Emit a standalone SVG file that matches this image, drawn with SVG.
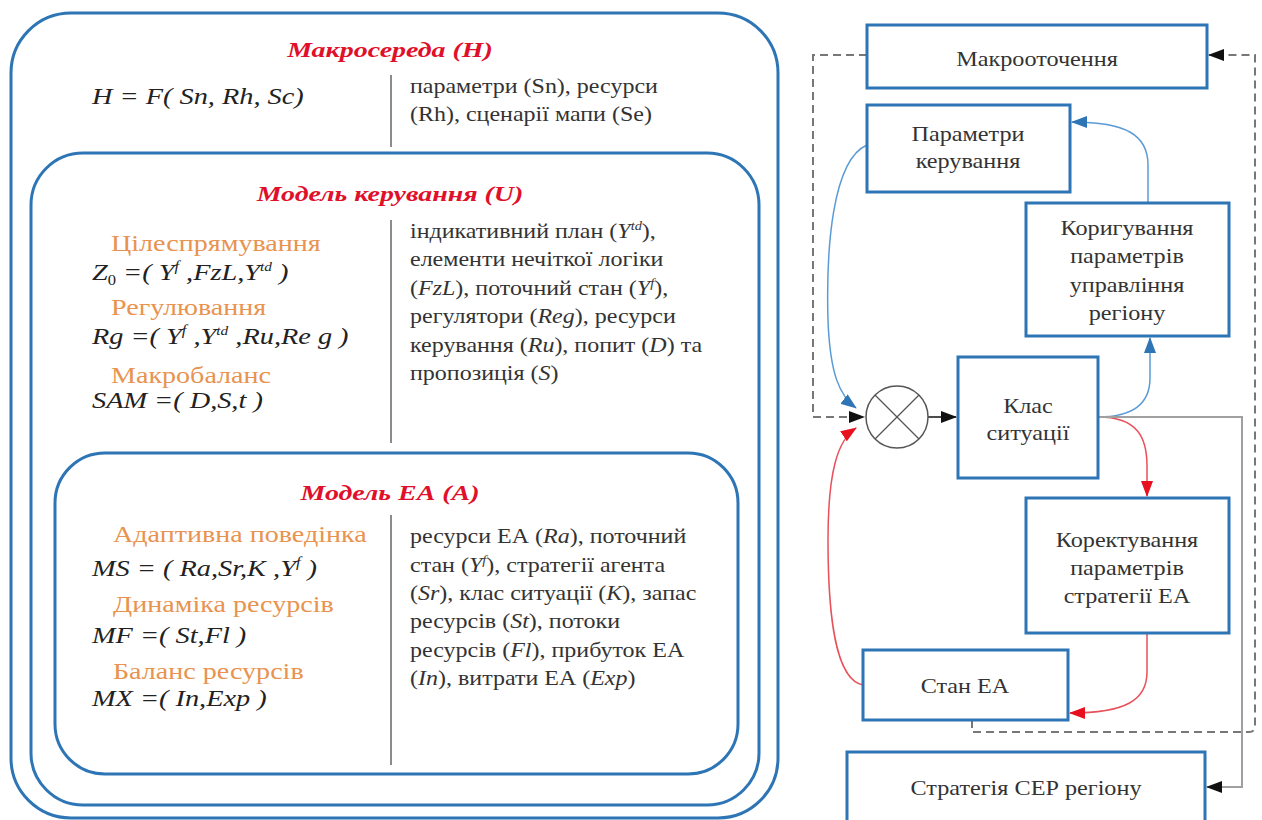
<svg xmlns="http://www.w3.org/2000/svg" width="1262" height="820" viewBox="0 0 1262 820">
<defs>
<style>
.frame{fill:#ffffff;stroke:#2E75B6;stroke-width:3}
.box{fill:#ffffff;stroke:#2E75B6;stroke-width:3}
.div{stroke:#8c8c8c;stroke-width:2}
text{font-family:'Liberation Serif','Times New Roman',serif}
.title{font-weight:bold;font-style:italic;font-size:22px;fill:#E0102A;text-anchor:middle}
.lab{font-size:24px;fill:#E8934F}
.f{font-style:italic;font-size:24px;fill:#222}
.d{font-size:20px;fill:#333}
.i{font-style:italic}
.n{font-size:22px;fill:#333;text-anchor:middle}
.c{fill:none;stroke-width:1.5}
</style>
<marker id="ak" markerUnits="userSpaceOnUse" markerWidth="16" markerHeight="12" refX="15" refY="6" orient="auto"><path d="M0,0 L16,6 L0,12 z" fill="#111"/></marker>
<marker id="ab" markerUnits="userSpaceOnUse" markerWidth="16" markerHeight="12" refX="15" refY="6" orient="auto"><path d="M0,0 L16,6 L0,12 z" fill="#2E75B6"/></marker>
<marker id="ar" markerUnits="userSpaceOnUse" markerWidth="16" markerHeight="12" refX="15" refY="6" orient="auto"><path d="M0,0 L16,6 L0,12 z" fill="#E8101E"/></marker>
</defs>
<rect width="1262" height="820" fill="#ffffff"/>

<g id="macro-env">
<rect class="frame" x="11" y="13" width="767" height="805" rx="60"/>
<g transform="translate(390,0) scale(1.27,1)"><text class="title" x="0" y="57">Макросереда (H)</text></g>
<g transform="translate(92,0) scale(1.18,1)"><text class="f" x="0" y="104">H = F( Sn,  Rh,  Sc)</text></g>
<line class="div" x1="391" y1="75" x2="391" y2="147"/>
<g transform="translate(410,0) scale(1.2,1)">
<text class="d" x="0" y="93">параметри (Sn), ресурси</text>
<text class="d" x="0" y="121">(Rh), сценарії мапи (Se)</text>
</g>
</g>

<g id="control-model">
<rect class="frame" x="31" y="153" width="728" height="652" rx="52"/>
<g transform="translate(390,0) scale(1.27,1)"><text class="title" x="0" y="201">Модель керування (U)</text></g>
<g transform="translate(111,0) scale(1.17,1)">
<text class="lab" x="0" y="251">Цілеспрямування</text>
<text class="lab" x="0" y="315">Регулювання</text>
<text class="lab" x="0" y="383">Макробаланс</text>
</g>
<g transform="translate(92,0) scale(1.18,1)">
<text class="f" x="0" y="280">Z<tspan font-size="14" font-style="normal" dy="5">0</tspan><tspan dy="-5"> =( Y</tspan><tspan font-size="14" dy="-9">f</tspan><tspan dy="9"> ,FzL,Y</tspan><tspan font-size="13" dy="-9">td</tspan><tspan dy="9"> )</tspan></text>
<text class="f" x="0" y="344">Rg =( Y<tspan font-size="14" dy="-9">f</tspan><tspan dy="9"> ,Y</tspan><tspan font-size="13" dy="-9">td</tspan><tspan dy="9"> ,Ru,Re g )</tspan></text>
<text class="f" x="0" y="408">SAM =( D,S,t )</text>
</g>
<line class="div" x1="391" y1="220" x2="391" y2="443"/>
<g transform="translate(410,0) scale(1.2,1)">
<text class="d" x="0" y="238">індикативний план (<tspan class="i">Y</tspan><tspan class="i" font-size="12" dy="-8">td</tspan><tspan dy="8">),</tspan></text>
<text class="d" x="0" y="266">елементи нечіткої логіки</text>
<text class="d" x="0" y="295">(<tspan class="i">FzL</tspan>), поточний стан (<tspan class="i">Y</tspan><tspan class="i" font-size="12" dy="-8">f</tspan><tspan dy="8">),</tspan></text>
<text class="d" x="0" y="323">регулятори (<tspan class="i">Reg</tspan>), ресурси</text>
<text class="d" x="0" y="352">керування (<tspan class="i">Ru</tspan>), попит (<tspan class="i">D</tspan>) та</text>
<text class="d" x="0" y="380">пропозиція (<tspan class="i">S</tspan>)</text>
</g>
</g>

<g id="ea-model">
<rect class="frame" x="55" y="453" width="683" height="321" rx="50"/>
<g transform="translate(390,0) scale(1.27,1)"><text class="title" x="0" y="500">Модель ЕА (А)</text></g>
<g transform="translate(113,0) scale(1.17,1)">
<text class="lab" x="0" y="542">Адаптивна поведінка</text>
<text class="lab" x="0" y="612">Динаміка ресурсів</text>
<text class="lab" x="0" y="679">Баланс ресурсів</text>
</g>
<g transform="translate(92,0) scale(1.18,1)">
<text class="f" x="0" y="576">MS = ( Ra,Sr,K ,Y<tspan font-size="14" dy="-9">f</tspan><tspan dy="9">  )</tspan></text>
<text class="f" x="0" y="643">MF =( St,Fl )</text>
<text class="f" x="0" y="706">MX =( In,Exp )</text>
</g>
<line class="div" x1="391" y1="515" x2="391" y2="765"/>
<g transform="translate(410,0) scale(1.2,1)">
<text class="d" x="0" y="543">ресурси ЕА (<tspan class="i">Ra</tspan>), поточний</text>
<text class="d" x="0" y="572">стан (<tspan class="i">Y</tspan><tspan class="i" font-size="12" dy="-8">f</tspan><tspan dy="8">), стратегії агента</tspan></text>
<text class="d" x="0" y="600">(<tspan class="i">Sr</tspan>), клас ситуації (<tspan class="i">K</tspan>), запас</text>
<text class="d" x="0" y="628">ресурсів (<tspan class="i">St</tspan>), потоки</text>
<text class="d" x="0" y="657">ресурсів (<tspan class="i">Fl</tspan>), прибуток ЕА</text>
<text class="d" x="0" y="685">(<tspan class="i">In</tspan>), витрати ЕА (<tspan class="i">Exp</tspan>)</text>
</g>
</g>

<g id="connectors">
<path d="M867,55 H813 V417 H864" fill="none" stroke="#777" stroke-width="2" stroke-dasharray="8,5" marker-end="url(#ak)"/>
<path d="M972,720 V732 H1249 Q1255,732 1255,726 V55 H1209" fill="none" stroke="#777" stroke-width="2" stroke-dasharray="8,5" marker-end="url(#ak)"/>
<path class="c" d="M867,145 C832,160 826,250 828,320 C830,375 840,396 856,408" stroke="#5B9BD5" marker-end="url(#ab)"/>
<path class="c" d="M1098,417 C1138,417 1150,400 1150,378 V338" stroke="#5B9BD5" marker-end="url(#ab)"/>
<path class="c" d="M1148,203 V165 C1148,135 1126,122 1072,122" stroke="#5B9BD5" marker-end="url(#ab)"/>
<path class="c" d="M1098,417 C1138,417 1147,438 1147,466 V496" stroke="#E8505A" marker-end="url(#ar)"/>
<path class="c" d="M1147,633 V672 C1147,700 1126,713 1070,713" stroke="#E8505A" marker-end="url(#ar)"/>
<path class="c" d="M863,685 C836,680 828,620 828,540 C828,470 838,440 856,428" stroke="#E8505A" marker-end="url(#ar)"/>
<path d="M928,417 H956" fill="none" stroke="#111" stroke-width="1.5" marker-end="url(#ak)"/>
<path d="M1098,417 H1242 V787 H1207" fill="none" stroke="#A0A0A0" stroke-width="2" marker-end="url(#ak)"/>
</g>

<g id="n-macro"><rect class="box" x="867" y="25" width="340" height="63"/><text class="n" transform="translate(1037,0) scale(1.1,1)" x="0" y="66">Макрооточення</text></g>
<g id="n-params"><rect class="box" x="867" y="105" width="203" height="87"/><g transform="translate(968,0) scale(1.1,1)"><text class="n" x="0" y="141">Параметри</text><text class="n" x="0" y="168">керування</text></g></g>
<g id="n-korig"><rect class="box" x="1026" y="203" width="203" height="133"/><g transform="translate(1127,0) scale(1.1,1)"><text class="n" x="0" y="235">Коригування</text><text class="n" x="0" y="263">параметрів</text><text class="n" x="0" y="292">управління</text><text class="n" x="0" y="320">регіону</text></g></g>
<g id="n-sum"><circle cx="897" cy="417" r="31" fill="#fff" stroke="#555" stroke-width="1.5"/><line x1="875" y1="395" x2="919" y2="439" stroke="#555" stroke-width="1.2"/><line x1="919" y1="395" x2="875" y2="439" stroke="#555" stroke-width="1.2"/></g>
<g id="n-klas"><rect class="box" x="958" y="357" width="140" height="121"/><g transform="translate(1028,0) scale(1.1,1)"><text class="n" x="0" y="413">Клас</text><text class="n" x="0" y="440">ситуації</text></g></g>
<g id="n-korekt"><rect class="box" x="1026" y="498" width="203" height="135"/><g transform="translate(1127,0) scale(1.1,1)"><text class="n" x="0" y="547">Коректування</text><text class="n" x="0" y="575">параметрів</text><text class="n" x="0" y="603">стратегії ЕА</text></g></g>
<g id="n-stan"><rect class="box" x="863" y="650" width="205" height="70"/><text class="n" transform="translate(965,0) scale(1.1,1)" x="0" y="693">Стан ЕА</text></g>
<g id="n-strat"><rect class="box" x="847" y="752" width="358" height="74"/><text class="n" transform="translate(1026,0) scale(1.1,1)" x="0" y="795">Стратегія СЕР регіону</text></g>
</svg>
